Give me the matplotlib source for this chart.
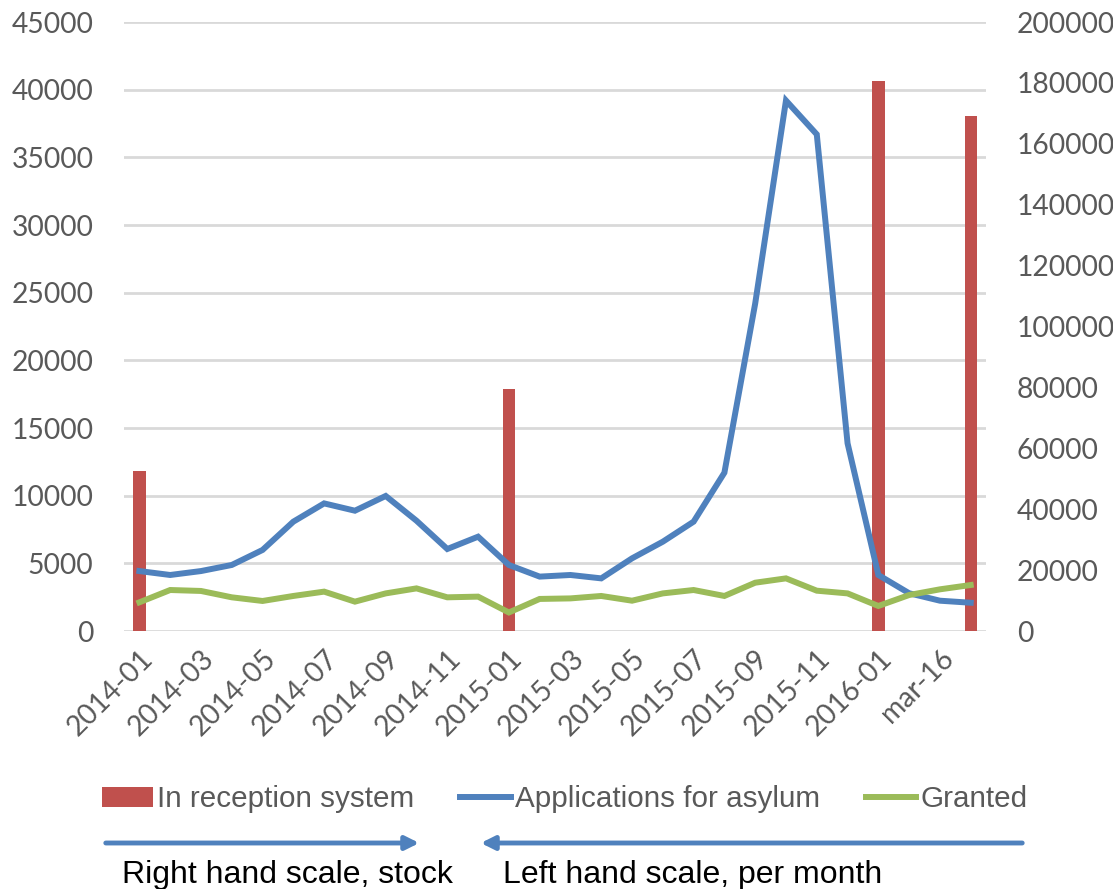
import matplotlib
matplotlib.use("Agg")
import matplotlib.pyplot as plt
from matplotlib.patches import FancyArrowPatch

# monthly categories, 2014-01 .. 2016-01, then feb/mar/apr 2016
months = [f"2014-{m:02d}" for m in range(1, 13)] + [f"2015-{m:02d}" for m in range(1, 13)] + ["2016-01"]
categories = months + ["feb-16", "mar-16", "apr-16"]

applications = [4430, 4140, 4430, 4880, 5990, 8080, 9430, 8890, 9980, 8150, 6060, 6970,
                4880, 4020, 4140, 3890, 5370, 6600, 8080, 11700, 24200, 39200, 36700, 13870,
                4140, 2790, 2240, 2090]
granted = [2120, 3030, 2960, 2490, 2220, 2590, 2910, 2170, 2780, 3150, 2490, 2540,
           1370, 2370, 2410, 2590, 2240, 2780, 3030, 2590, 3570, 3890, 2980, 2780,
           1850, 2660, 3080, 3400]
# stock in reception system, only a few months reported
in_reception = {"2014-01": 52500, "2015-01": 79500, "2016-01": 180600, "apr-16": 169100}

left_ticks = list(range(0, 45001, 5000))
right_ticks = list(range(0, 200001, 20000))

RED = "#C0504D"
BLUE = "#4F81BD"
GREEN = "#9BBB59"
GRID = "#D9D9D9"
TICK = "#595959"

fig = plt.figure(figsize=(11.13, 8.89), dpi=100)
ax = fig.add_axes([0.1114, 0.2902, 0.7746, 0.685])
ax_bar = ax.twinx()
ax_line = ax.twinx()

x = list(range(len(categories)))

# grid + left scale on the bottom axes
ax.set_ylim(0, 45000)
ax.set_yticks(left_ticks)
ax.set_yticklabels([str(t) for t in left_ticks], family="Lato", fontsize=20.3, color=TICK)
ax.grid(axis="y", color=GRID, lw=2)
ax.set_xlim(-0.5, len(categories) - 0.5)
ax.set_xticks(x[::2])
ax.set_xticklabels(categories[::2], rotation=45, ha="right", rotation_mode="anchor",
                   family="Lato", fontsize=20.3, color=TICK)
ax.tick_params(axis="both", length=0)
ax.tick_params(axis="y", pad=22)
ax.tick_params(axis="x", pad=10)

# bars on right scale
bar_x = [categories.index(k) for k in in_reception]
bars = ax_bar.bar(bar_x, list(in_reception.values()), width=0.4, color=RED,
                  label="In reception system")
ax_bar.set_ylim(0, 200000)
ax_bar.set_yticks(right_ticks)
ax_bar.set_yticklabels([str(t) for t in right_ticks], family="Lato", fontsize=20.3, color=TICK)
ax_bar.tick_params(axis="y", length=0, pad=22)

# lines on left scale, drawn on top
ax_line.set_ylim(0, 45000)
ax_line.set_yticks([])
l1, = ax_line.plot(x, applications, color=BLUE, lw=4.3, solid_joinstyle="miter",
                   label="Applications for asylum")
l2, = ax_line.plot(x, granted, color=GREEN, lw=4.3, solid_joinstyle="miter", label="Granted")

for a in (ax, ax_bar, ax_line):
    for s in a.spines.values():
        s.set_visible(False)

fig.legend(handles=[bars, l1, l2], labels=[h.get_label() for h in (bars, l1, l2)],
           loc="center left", bbox_to_anchor=(0.092, 0.101), ncol=3, frameon=False,
           prop={"family": "Liberation Sans", "size": 21.3}, labelcolor=TICK,
           handlelength=1.7, handletextpad=0.15, columnspacing=1.55,
           borderpad=0, borderaxespad=0)

y_arrow = 1 - 843 / 889
fig.add_artist(FancyArrowPatch((103 / 1113, y_arrow), (422 / 1113, y_arrow),
                               transform=fig.transFigure, arrowstyle="-|>",
                               mutation_scale=20, lw=3.5, color=BLUE))
fig.add_artist(FancyArrowPatch((1025 / 1113, y_arrow), (478 / 1113, y_arrow),
                               transform=fig.transFigure, arrowstyle="-|>",
                               mutation_scale=20, lw=3.5, color=BLUE))

y_text = 1 - 883 / 889
fig.text(122 / 1113, y_text, "Right hand scale, stock", family="Liberation Sans",
         fontsize=23, va="baseline", color="black")
fig.text(503 / 1113, y_text, "Left hand scale, per month", family="Liberation Sans",
         fontsize=23, va="baseline", color="black")

fig.savefig("out.png", dpi=100)
